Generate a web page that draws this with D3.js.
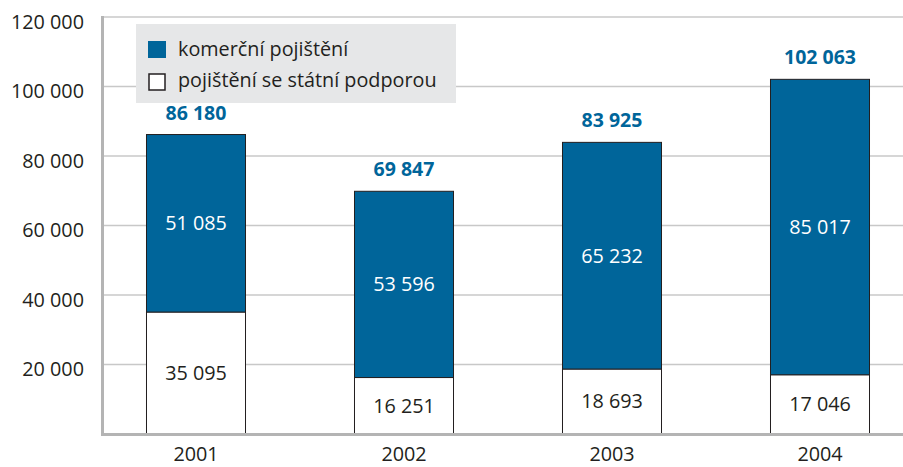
<!DOCTYPE html>
<html lang="cs">
<head>
    <meta charset="UTF-8">
    <title>Pojištění</title>
    <style>
        body {
            margin: 0;
            background: #fff;
            font-family: 'Open Sans', sans-serif;
        }
        .tick-label {
            font-size: 19.8px;
            fill: #231f20;
        }
    </style>
</head>
<body>
    <div id="chart"></div>
    <script src="https://d3js.org/d3.v7.min.js"></script>
    <script>
        const years = ["2001", "2002", "2003", "2004"];
        const statni = [35095, 16251, 18693, 17046];
        const komercni = [51085, 53596, 65232, 85017];
        const totals = [86180, 69847, 83925, 102063];
        const yTicks = [20000, 40000, 60000, 80000, 100000, 120000];
        const legendLabels = ["komerční pojištění", "pojištění se státní podporou"];

        const width = 903;
        const height = 467;
        const blue = "#00659a";
        const fmt = v => d3.format(",")(v).replace(/,/g, " ");

        const svg = d3.select("#chart")
            .append("svg")
            .attr("width", width)
            .attr("height", height)
            .style("display", "block");

        const x = d3.scaleBand()
            .domain(years)
            .range([92, 924])
            .paddingInner(0.524)
            .paddingOuter(0.262);

        const y = d3.scaleLinear()
            .domain([0, 120000])
            .range([434, 17]);

        // gridlines
        svg.append("g")
            .selectAll("line")
            .data(yTicks)
            .join("line")
            .attr("x1", 103)
            .attr("x2", width)
            .attr("y1", d => y(d))
            .attr("y2", d => y(d))
            .attr("stroke", "#c8c8c8")
            .attr("stroke-width", 1.5);

        // y labels
        svg.append("g")
            .selectAll("text")
            .data(yTicks)
            .join("text")
            .attr("class", "tick-label")
            .attr("x", 84)
            .attr("y", d => y(d) + 5)
            .attr("dy", "0.35em")
            .attr("text-anchor", "end")
            .text(fmt);

        // bars
        const bars = svg.append("g")
            .selectAll("g")
            .data(years)
            .join("g");

        bars.append("rect")
            .attr("x", d => x(d))
            .attr("width", x.bandwidth())
            .attr("y", (d, i) => y(statni[i]))
            .attr("height", (d, i) => y(0) - y(statni[i]))
            .attr("fill", "#fff")
            .attr("stroke", "#231f20")
            .attr("stroke-width", 1);

        bars.append("rect")
            .attr("x", d => x(d))
            .attr("width", x.bandwidth())
            .attr("y", (d, i) => y(statni[i] + komercni[i]))
            .attr("height", (d, i) => y(statni[i]) - y(statni[i] + komercni[i]))
            .attr("fill", blue)
            .attr("stroke", "#231f20")
            .attr("stroke-width", 1);

        bars.append("text")
            .attr("class", "tick-label")
            .attr("x", d => x(d) + x.bandwidth() / 2)
            .attr("y", (d, i) => (y(0) + y(statni[i])) / 2)
            .attr("dy", "0.35em")
            .attr("text-anchor", "middle")
            .text((d, i) => fmt(statni[i]));

        bars.append("text")
            .attr("class", "tick-label")
            .attr("x", d => x(d) + x.bandwidth() / 2)
            .attr("y", (d, i) => (y(statni[i]) + y(statni[i] + komercni[i])) / 2)
            .attr("dy", "0.35em")
            .attr("text-anchor", "middle")
            .style("fill", "#fff")
            .text((d, i) => fmt(komercni[i]));

        bars.append("text")
            .attr("x", d => x(d) + x.bandwidth() / 2)
            .attr("y", (d, i) => y(totals[i]) - 15)
            .attr("text-anchor", "middle")
            .attr("font-size", "19.5px")
            .attr("font-weight", "bold")
            .attr("fill", blue)
            .text((d, i) => fmt(totals[i]));

        // frame: left and bottom axis lines
        svg.append("line")
            .attr("x1", 102.5).attr("x2", 102.5)
            .attr("y1", 16).attr("y2", 436)
            .attr("stroke", "#b4b4b4")
            .attr("stroke-width", 3);

        svg.append("line")
            .attr("x1", 101).attr("x2", width)
            .attr("y1", 434.5).attr("y2", 434.5)
            .attr("stroke", "#b4b4b4")
            .attr("stroke-width", 3);

        // x labels
        svg.append("g")
            .selectAll("text")
            .data(years)
            .join("text")
            .attr("class", "tick-label")
            .attr("x", d => x(d) + x.bandwidth() / 2)
            .attr("y", 460.5)
            .attr("text-anchor", "middle")
            .text(d => d);

        // legend
        const legend = svg.append("g");
        legend.append("rect")
            .attr("x", 136)
            .attr("y", 24)
            .attr("width", 320)
            .attr("height", 79)
            .attr("fill", "#e6e7e8");

        legend.selectAll("rect.sw")
            .data(legendLabels)
            .join("rect")
            .attr("class", "sw")
            .attr("x", (d, i) => i === 0 ? 148 : 149)
            .attr("y", (d, i) => i === 0 ? 41 : 74)
            .attr("width", (d, i) => i === 0 ? 18 : 16)
            .attr("height", (d, i) => i === 0 ? 17 : 16)
            .attr("fill", (d, i) => i === 0 ? blue : "#fff")
            .attr("stroke", (d, i) => i === 0 ? "none" : "#231f20")
            .attr("stroke-width", 1.5);

        legend.selectAll("text")
            .data(legendLabels)
            .join("text")
            .attr("class", "tick-label")
            .attr("x", 178)
            .attr("y", (d, i) => 56 + i * 31)
            .text(d => d);
    </script>
</body>
</html>
